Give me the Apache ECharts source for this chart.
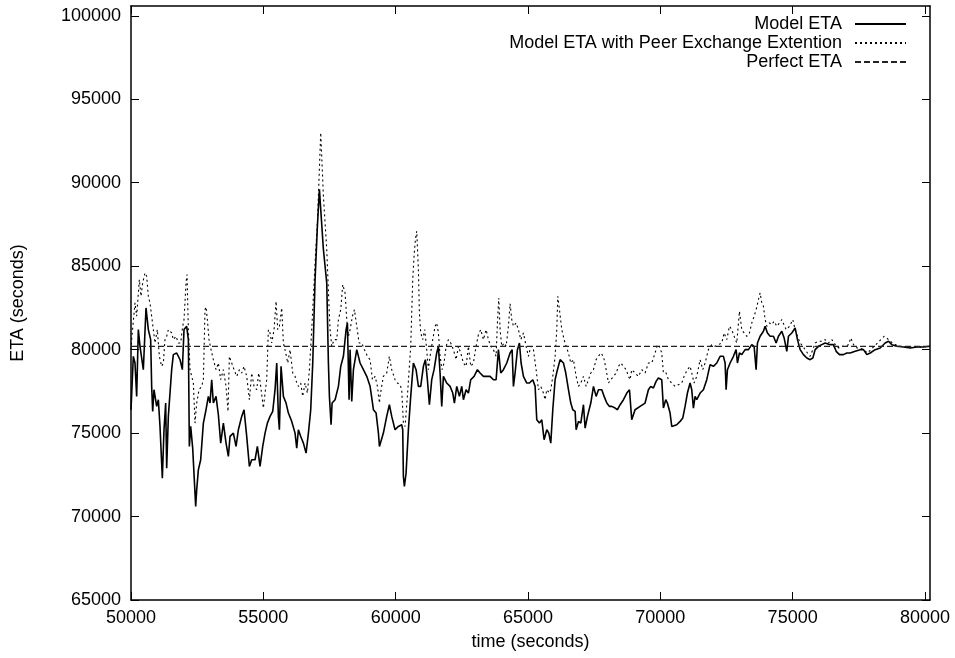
<!DOCTYPE html>
<html><head><meta charset="utf-8">
<script src="https://cdn.jsdelivr.net/npm/echarts@6/dist/echarts.min.js"></script>
<style>html,body{margin:0;padding:0;background:#fff}#c{width:955px;height:658px}</style>
</head><body><div id="c"></div>
<script>
const xTicks = [50000,55000,60000,65000,70000,75000,80000];
const yTicks = [65000,70000,75000,80000,85000,90000,95000,100000];
const seriesNames = ['Model ETA','Model ETA with Peer Exchange Extention','Perfect ETA'];
const modelEta = [[50000,76400],[50088,79600],[50151,79200],[50214,77200],[50277,81200],[50340,80200],[50466,78800],[50567,82500],[50655,81200],[50743,80600],[50781,77800],[50819,76300],[50869,77600],[50970,76600],[51033,77000],[51096,75400],[51184,72300],[51247,75200],[51310,76800],[51348,72900],[51411,76000],[51537,78800],[51600,79700],[51726,79800],[51852,79400],[51940,78800],[52003,81200],[52104,81400],[52167,80600],[52205,74200],[52255,75400],[52331,74100],[52394,74200],[52444,70600],[52482,71600],[52545,72800],[52633,73400],[52734,75600],[52835,76400],[52923,77200],[52986,76800],[53049,78200],[53112,76800],[53213,77200],[53301,76100],[53389,74400],[53490,75600],[53591,74400],[53679,73600],[53742,74800],[53868,75000],[53969,74200],[54057,75200],[54183,76000],[54271,76400],[54372,74800],[54473,73000],[54561,73400],[54687,73400],[54775,74200],[54876,73000],[54977,74200],[55065,75000],[55153,75600],[55254,76000],[55355,76300],[55443,77600],[55506,79200],[55569,76000],[55607,75200],[55670,79000],[55758,77200],[55859,76800],[55947,76200],[56073,75700],[56199,75000],[56262,74100],[56325,75200],[56413,74800],[56514,74400],[56615,73800],[56703,75000],[56791,76400],[56867,79200],[56955,84200],[57043,87400],[57119,89600],[57270,86000],[57396,84000],[57459,79200],[57497,77200],[57560,75500],[57598,76800],[57711,77000],[57837,77800],[57925,79000],[58026,79600],[58127,81200],[58177,81600],[58240,77000],[58278,80000],[58341,76900],[58404,78800],[58530,80000],[58656,79200],[58782,78800],[58908,78400],[59034,77800],[59160,76400],[59261,76200],[59349,75000],[59387,74200],[59536,75000],[59662,76000],[59763,76700],[59851,76000],[59977,75200],[60103,75400],[60229,75500],[60267,75200],[60292,72400],[60330,71800],[60393,72600],[60481,75200],[60569,77200],[60670,79200],[60771,78800],[60859,77800],[60947,77800],[61048,79000],[61124,79400],[61199,78200],[61275,76700],[61363,78200],[61451,78800],[61552,79800],[61615,80200],[61678,78600],[61741,76600],[61804,78400],[61930,78000],[62056,77800],[62157,77400],[62220,76800],[62308,77800],[62409,77200],[62497,77800],[62560,77000],[62661,77600],[62749,77400],[62837,78200],[62963,78400],[63089,78800],[63190,78600],[63316,78400],[63442,78400],[63568,78400],[63694,78200],[63795,78200],[63883,80000],[63971,78600],[64072,78800],[64198,79200],[64324,79800],[64400,80000],[64450,77800],[64513,78600],[64601,80000],[64677,80400],[64740,79200],[64828,78400],[64954,78000],[65055,78000],[65181,78200],[65269,77800],[65332,75800],[65433,75600],[65521,75800],[65609,74600],[65710,75200],[65786,75000],[65861,74400],[65937,76400],[66025,78200],[66113,78800],[66214,79400],[66340,79200],[66428,78600],[66529,77600],[66617,76800],[66693,76400],[66781,76300],[66819,75200],[66907,75700],[66995,75600],[67096,76700],[67159,75300],[67247,76000],[67373,76800],[67474,77800],[67575,77200],[67663,77600],[67789,77600],[67877,77200],[67978,76800],[68079,76600],[68167,76600],[68293,76500],[68381,76400],[68482,76700],[68608,77000],[68734,77400],[68835,77600],[68920,75800],[69046,76400],[69235,76600],[69424,76800],[69550,77600],[69638,77800],[69739,77700],[69840,78100],[69928,78300],[70054,78200],[70117,76500],[70205,77000],[70268,76800],[70369,76200],[70432,75400],[70495,75300],[70621,75500],[70747,75700],[70848,75900],[70936,76600],[71024,77400],[71125,78000],[71188,77600],[71251,76500],[71314,77200],[71377,77000],[71503,77400],[71629,77600],[71755,78200],[71881,79100],[72007,79000],[72133,79200],[72259,79600],[72385,79600],[72448,79200],[72486,77600],[72536,78800],[72637,79200],[72763,79600],[72864,80000],[72914,79200],[72990,79800],[73078,79700],[73204,80000],[73330,80000],[73456,80300],[73544,80200],[73620,78800],[73670,80400],[73771,80800],[73897,81100],[73960,81400],[74048,81000],[74149,80800],[74275,80800],[74376,80400],[74464,80800],[74590,81100],[74678,80700],[74779,79900],[74842,80800],[74968,81000],[75094,81300],[75182,80600],[75283,80000],[75409,79700],[75535,79500],[75661,79400],[75762,79500],[75850,80000],[75976,80200],[76102,80300],[76228,80400],[76417,80300],[76543,80300],[76644,79900],[76770,79700],[76921,79700],[77047,79800],[77173,79800],[77362,79900],[77551,80000],[77677,80000],[77803,79700],[77929,79800],[78118,80000],[78307,80100],[78496,80400],[78622,80500],[78748,80300],[78937,80200],[79189,80160],[79441,80100],[79693,80160],[79945,80160],[80190,80200]];
const peerEta = [[50000,80000],[50025,80600],[50151,82800],[50214,82000],[50315,84200],[50378,83200],[50441,84000],[50529,84600],[50592,84400],[50655,83200],[50718,82800],[50781,82000],[50844,81200],[50907,80400],[50995,81200],[51071,79600],[51159,79000],[51222,79200],[51285,80600],[51348,80800],[51411,81200],[51474,81300],[51537,81000],[51600,80600],[51701,80800],[51789,80400],[51877,80400],[51953,81400],[52003,81800],[52079,84000],[52117,84500],[52167,81200],[52230,78800],[52293,78400],[52356,78000],[52419,75600],[52482,76800],[52570,77600],[52671,77800],[52734,78200],[52797,82400],[52835,82560],[52885,81800],[52948,80600],[53024,80000],[53112,79400],[53213,78800],[53301,79200],[53389,78200],[53490,78800],[53591,77800],[53666,76300],[53717,79600],[53805,79200],[53893,78800],[53994,78400],[54095,78800],[54183,78600],[54271,79000],[54372,78400],[54473,77000],[54561,78600],[54649,77800],[54750,77600],[54826,78600],[54901,77800],[55002,76500],[55065,77400],[55128,78200],[55191,81200],[55254,81000],[55317,80400],[55405,81200],[55481,82900],[55544,81200],[55607,81400],[55695,82500],[55758,80400],[55846,79800],[55922,79200],[56010,80000],[56111,78600],[56199,78400],[56262,78000],[56325,77800],[56413,78000],[56489,77200],[56577,78000],[56665,77400],[56741,78800],[56829,81200],[56892,83200],[56968,85600],[57043,87600],[57169,93000],[57270,89200],[57396,86000],[57472,83000],[57522,81200],[57585,80200],[57673,80600],[57774,80600],[57837,81800],[57925,82400],[58001,83900],[58089,83400],[58152,81800],[58215,80800],[58278,81200],[58366,82000],[58442,82400],[58530,81400],[58618,80400],[58719,80400],[58820,80000],[58933,79600],[59034,79400],[59122,78200],[59223,78400],[59311,77800],[59387,76800],[59410,77200],[59536,78400],[59662,78600],[59763,79600],[59851,78800],[59977,78200],[60065,78000],[60166,77900],[60229,77600],[60292,75600],[60355,75400],[60443,77200],[60569,80200],[60645,84200],[60695,85600],[60746,86600],[60796,87100],[60859,84800],[60897,82200],[60947,81000],[61023,80600],[61098,81200],[61174,80000],[61237,78800],[61300,79600],[61401,80600],[61489,81400],[61552,81600],[61615,81000],[61678,79600],[61754,78800],[61829,79200],[61905,80200],[61993,80600],[62081,80400],[62182,80000],[62283,79400],[62371,80200],[62459,79800],[62560,79200],[62661,79000],[62749,80200],[62837,79000],[62938,79200],[63039,80200],[63127,80900],[63215,81200],[63316,80600],[63417,81200],[63505,80600],[63593,80200],[63694,80000],[63795,79600],[63845,81600],[63896,83100],[63946,81200],[64009,80200],[64097,80400],[64173,80200],[64261,81400],[64324,82760],[64387,81800],[64450,81400],[64551,81600],[64639,81200],[64727,80600],[64828,81000],[64929,80200],[65017,79600],[65105,80200],[65206,80000],[65307,78800],[65395,77600],[65483,77800],[65584,77400],[65647,77000],[65710,77600],[65811,77400],[65861,77600],[65937,78400],[66025,79600],[66088,81200],[66126,83200],[66189,82400],[66277,81200],[66365,80600],[66441,80200],[66529,79800],[66617,79200],[66718,79400],[66819,78400],[66907,77800],[66995,78000],[67096,78400],[67197,77800],[67285,78200],[67373,78600],[67474,78800],[67575,79400],[67663,79600],[67751,79800],[67852,79600],[67953,78800],[68041,78000],[68129,78200],[68230,78400],[68331,78600],[68419,79000],[68507,79200],[68608,79000],[68709,78800],[68797,78400],[68857,78200],[68920,78800],[69046,78600],[69172,78400],[69298,78800],[69424,78600],[69550,79200],[69676,79200],[69802,79800],[69890,80300],[69966,80200],[70054,79800],[70117,78600],[70218,78600],[70306,78200],[70432,78000],[70558,77800],[70684,77900],[70810,78000],[70898,78400],[71024,78800],[71125,79000],[71188,78600],[71276,78000],[71377,78400],[71503,79400],[71604,78800],[71692,79200],[71818,80000],[71944,80300],[72070,80200],[72196,80300],[72322,80400],[72410,81000],[72511,80600],[72612,81400],[72700,81200],[72788,80800],[72889,80400],[72990,82300],[73078,81200],[73166,81000],[73267,80800],[73368,81000],[73456,81600],[73544,82000],[73620,82400],[73708,83000],[73771,83400],[73834,82800],[73897,82600],[73960,81800],[74023,81400],[74124,81600],[74212,81500],[74300,81700],[74401,81400],[74502,81600],[74590,81800],[74653,81900],[74754,81200],[74880,81400],[75006,81800],[75094,81200],[75182,80800],[75283,80400],[75384,80200],[75472,80000],[75560,79800],[75661,79600],[75762,80000],[75850,80400],[75976,80500],[76102,80500],[76228,80600],[76354,80400],[76480,80600],[76606,80300],[76732,80100],[76858,80200],[76984,80200],[77110,80300],[77198,80700],[77299,80300],[77425,80100],[77551,80100],[77677,80000],[77828,79800],[77954,80000],[78080,80200],[78206,80400],[78332,80600],[78458,80800],[78559,80700],[78685,80500],[78874,80300],[79063,80200],[79315,80160],[79567,80160],[79819,80160],[80190,80200]];
const perfectEta = [[50000,80200],[80190,80200]];

const FONT = '"Liberation Sans", Arial, Helvetica, sans-serif';
const chart = echarts.init(document.getElementById('c'), null, {renderer:'canvas'});
const axisLine = {show:true, lineStyle:{color:'#000', width:1.5}};
const tick = (vals)=>({show:true, inside:true, length:8, customValues:vals, lineStyle:{color:'#000', width:1}});
const fmt = v => String(v);
chart.setOption({
  animation:false,
  backgroundColor:'#fff',
  grid:{left:131, right:25, top:6, bottom:58, containLabel:false},
  legend:{
    orient:'vertical', right:43, top:10, align:'right',
    itemWidth:51, itemHeight:14, itemGap:1,
    itemStyle:{opacity:0},
    textStyle:{fontFamily:FONT, fontSize:18, color:'#000', padding:[0,8,0,0]},
    data:seriesNames
  },
  xAxis:[
    {type:'value', min:50000, max:80190, interval:5000, position:'bottom',
     name:'time (seconds)', nameLocation:'middle', nameGap:33,
     nameTextStyle:{fontFamily:FONT, fontSize:18, color:'#000'},
     axisLine:axisLine, axisTick:tick(xTicks), splitLine:{show:false},
     axisLabel:{customValues:xTicks, formatter:fmt, fontFamily:FONT, fontSize:18, color:'#000', margin:9}},
    {type:'value', min:50000, max:80190, interval:5000, position:'top',
     axisLine:axisLine, axisTick:tick(xTicks), splitLine:{show:false}, axisLabel:{show:false}}
  ],
  yAxis:[
    {type:'value', min:65000, max:100590, interval:5000, position:'left',
     name:'ETA (seconds)', nameLocation:'middle', nameGap:104, nameRotate:90,
     nameTextStyle:{fontFamily:FONT, fontSize:18, color:'#000'},
     axisLine:axisLine, axisTick:tick(yTicks), splitLine:{show:false},
     axisLabel:{customValues:yTicks, formatter:fmt, fontFamily:FONT, fontSize:18, color:'#000', margin:10}},
    {type:'value', min:65000, max:100590, interval:5000, position:'right',
     axisLine:axisLine, axisTick:tick(yTicks), splitLine:{show:false}, axisLabel:{show:false}}
  ],
  series:[
    {name:seriesNames[0], type:'line', data:modelEta, showSymbol:false, symbol:'none', sampling:null,
     lineStyle:{color:'#000', width:1.6}, itemStyle:{color:'#000'}, silent:true, z:2},
    {name:seriesNames[1], type:'line', data:peerEta, showSymbol:false, symbol:'none',
     lineStyle:{color:'#000', width:1.1, type:[2,3]}, itemStyle:{color:'#000'}, silent:true, z:3},
    {name:seriesNames[2], type:'line', data:perfectEta, showSymbol:false, symbol:'none',
     lineStyle:{color:'#222', width:1.2, type:[6,3]}, itemStyle:{color:'#222'}, silent:true, z:4}
  ]
});
</script></body></html>
